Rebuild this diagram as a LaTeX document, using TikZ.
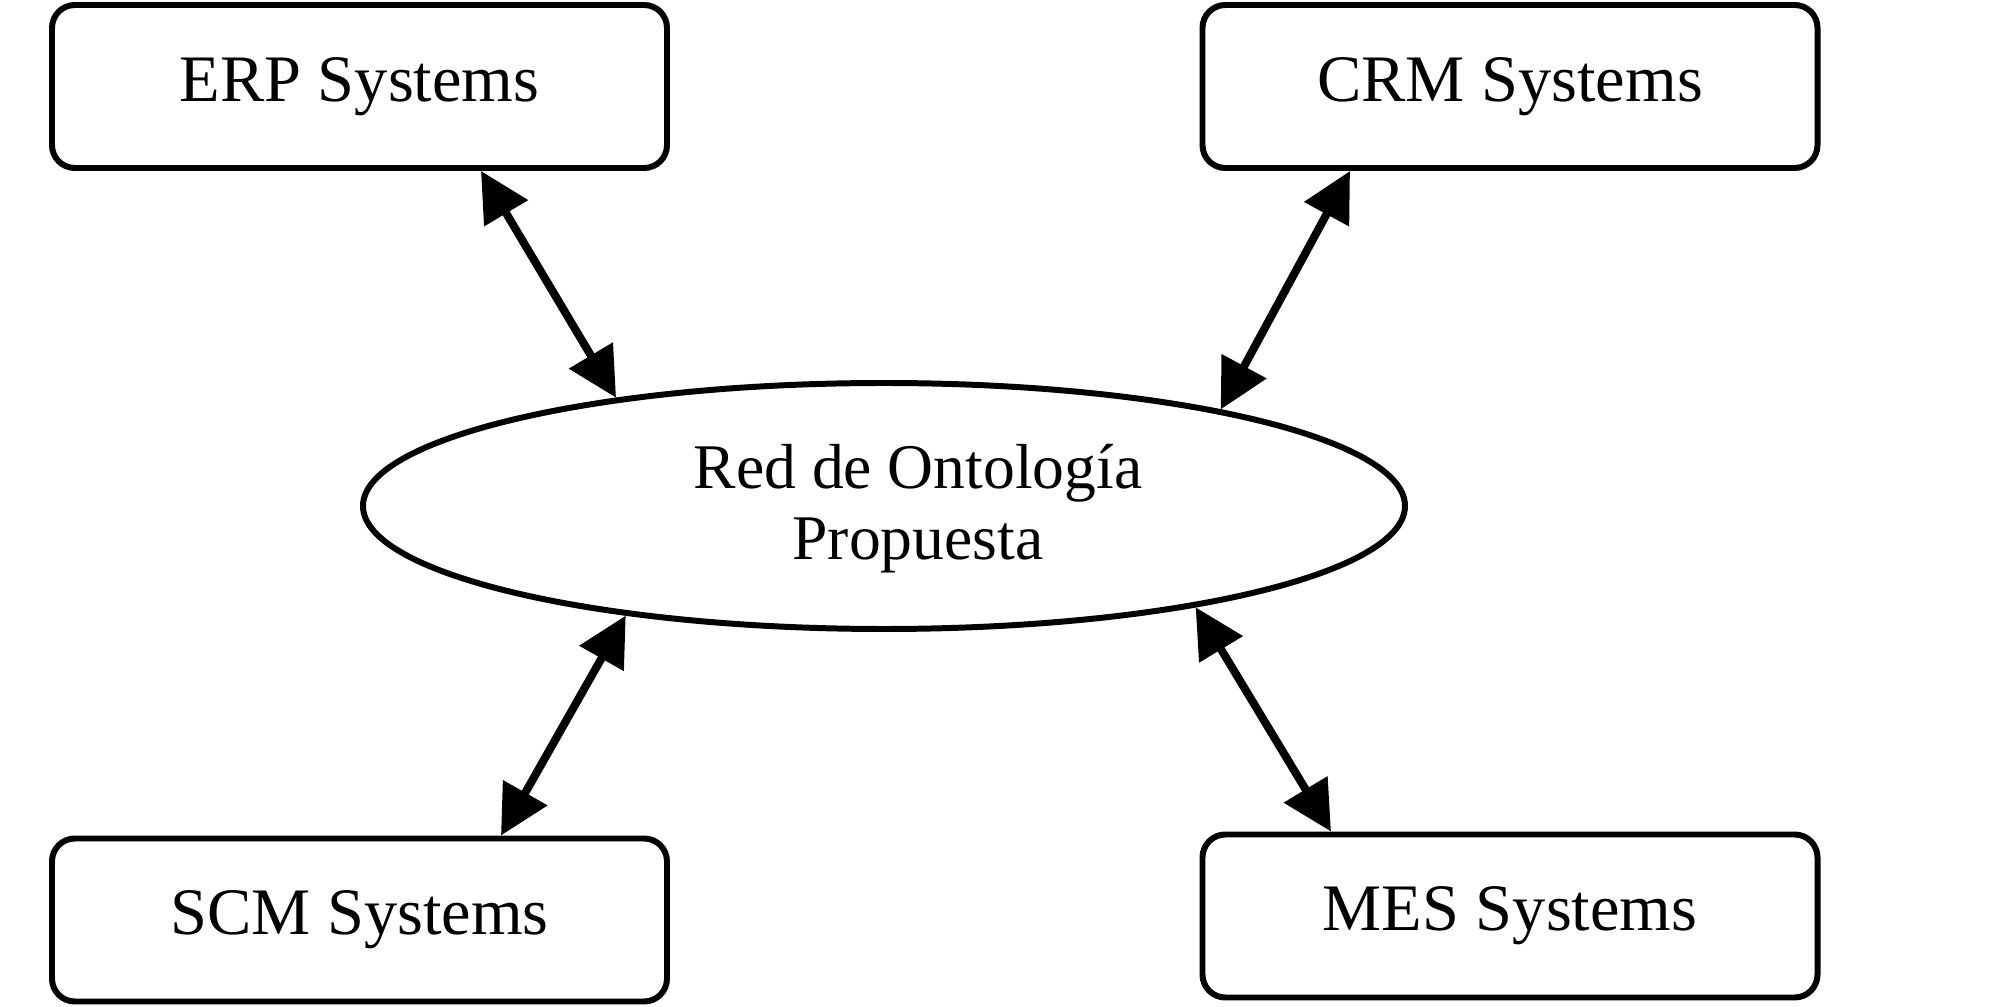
\documentclass[tikz,border=0pt]{standalone}
\usepackage{fontspec}
\setmainfont{Liberation Serif}
\usetikzlibrary{shapes.geometric,arrows.meta}

\begin{document}
\begin{tikzpicture}[
    sysbox/.style={draw,line width=1.7pt,rounded corners=6.5pt,minimum width=6.15cm,minimum height=1.63cm,font=\fontsize{18.9}{22}\selectfont},
    ontology/.style={draw,ellipse,line width=1.7pt,minimum width=10.42cm,minimum height=2.46cm},
    link/.style={line width=2.3pt,{Triangle[length=14pt,width=14pt]}-{Triangle[length=14pt,width=14pt]}}
]
    \useasboundingbox (0,0) rectangle (20.08,10.07);

    \node[sysbox] (erp) at (3.595,9.205) {ERP Systems};
    \node[sysbox] (crm) at (15.10,9.205) {CRM Systems};
    \node[sysbox] (scm) at (3.595,0.87) {SCM Systems};
    \node[sysbox] (mes) at (15.10,0.91) {MES Systems};

    \node[ontology] (red) at (8.84,5.01) {};
    \node[align=center,font=\fontsize{18.1}{20.2}\selectfont] (redtext) at ([xshift=0.34cm,yshift=-0.03cm]red.center) {Red de Ontología\\Propuesta};

    \draw[link] ([xshift=1.215cm]erp.south) -- (red.158);
    \draw[link] ([xshift=-1.6cm]crm.south) -- (red.16.8);
    \draw[link] ([xshift=1.415cm]scm.north) -- (red.203.5);
    \draw[link] ([xshift=-1.79cm]mes.north) -- (red.342.85);
\end{tikzpicture}
\end{document}
